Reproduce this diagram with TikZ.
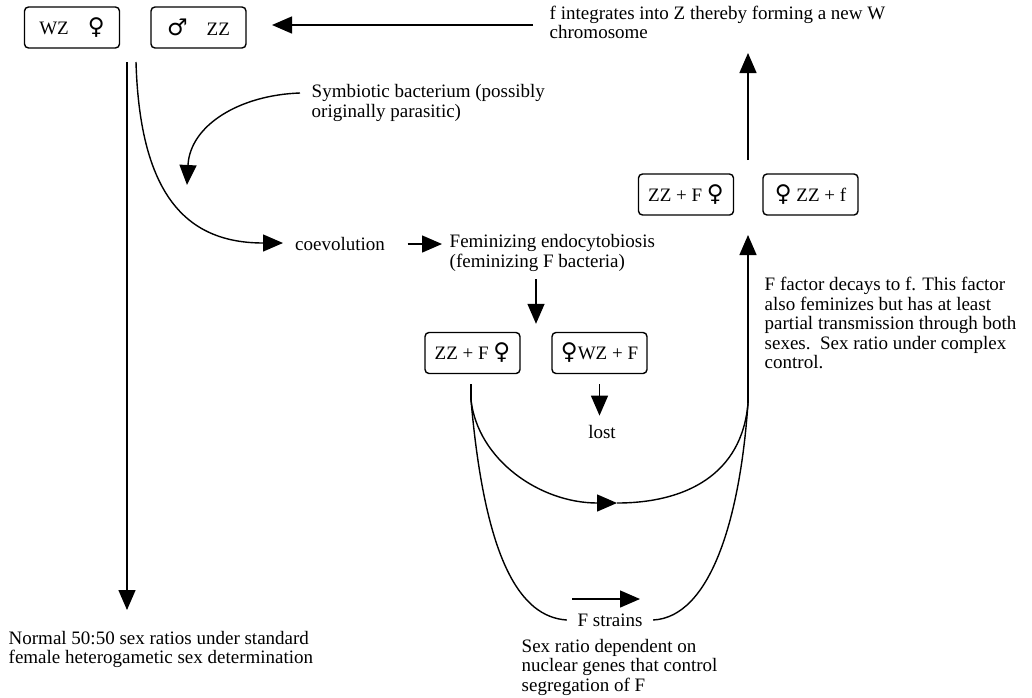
\documentclass[tikz,border=0pt]{standalone}
\usepackage{fontspec}
\setmainfont{Liberation Serif}
\newfontfamily\symfont{DejaVu Sans}
\usetikzlibrary{arrows.meta,calc}
\newcommand{\fem}{{\symfont\fontsize{11.5}{11.5}\selectfont ♀}}
\newcommand{\mal}{{\symfont\fontsize{11.5}{11.5}\selectfont ♂}}

\begin{document}
\begin{tikzpicture}[x=0.5pt,y=-0.5pt,
  font=\fontsize{9.5}{9.75}\selectfont,
  line width=0.7pt,
  box/.style={draw,rounded corners=2pt,minimum width=47.5pt,minimum height=20.5pt,inner sep=2pt},
  txt/.style={inner sep=0pt,align=left,anchor=west},
  lbl/.style={inner sep=0pt},
  arr/.style={-{Triangle[length=10pt,width=8.5pt]}}]
\useasboundingbox (0,0) rectangle (1032,697);

\node[box] (wz) at (72,27.5) {WZ\quad\fem};
\node[box] (zz) at (198.5,27.5) {\mal\quad ZZ};
\node[box] (zzF1) at (472.5,353) {ZZ + F\ \fem};
\node[box] (wzF) at (599.5,353) {\fem WZ + F};
\node[box] (zzF2) at (686,194.5) {ZZ + F\ \fem};
\node[box] (zzf) at (810.5,194.5) {\fem\ ZZ + f};

\node[txt] (newW) at (549,22.5) {f integrates into Z thereby forming a new W\\chromosome};
\node[txt] (symb) at (311,103) {Symbiotic bacterium (possibly\\originally parasitic)};
\node[lbl] (coev) at (340,244) {coevolution};
\node[txt] (femin) at (449,253) {Feminizing endocytobiosis\\(feminizing F bacteria)};
\node[lbl] (lost) at (602,432) {lost};
\node[txt] (decay) at (764,323) {F factor decays to f. This factor\\also feminizes but has at least\\partial transmission through both\\sexes.\ \ Sex ratio under complex\\control.};
\node[lbl] (fstr) at (610,620) {F strains};
\node[txt] (segr) at (521,667) {Sex ratio dependent on\\nuclear genes that control\\segregation of F};
\node[txt] (normal) at (8,649.5) {Normal 50:50 sex ratios under standard\\female heterogametic sex determination};

\coordinate (pairL) at (127,62);
\coordinate (pairR) at (136,62);
\coordinate (normTip) at (127,610);
\coordinate (symbTip) at (187,185);
\coordinate (coevIn) at (283,243);
\coordinate (zzIn) at (272,25);
\coordinate (fork) at ($(zzF1.north east)!.5!(wzF.north west)$);
\coordinate (split) at (471,400);
\coordinate (merge) at (748,403);
\coordinate (midA) at (617,503);
\coordinate (gapBot) at (748,235);
\coordinate (gapTop) at (748,160);
\coordinate (topTip) at (748,53);

\draw[arr,shorten <=8pt] (newW.west |- zzIn) -- (zzIn);
\draw[arr] (pairL) -- (normTip);
\draw[arr] (pairR) .. controls (140,200) and (190,243) .. (coevIn);
\draw[arr] ([shift={(-5.5pt,5pt)}]symb.west) .. controls (240,95) and (190,125) .. (symbTip);
\draw[arr,shorten <=11pt,shorten >=3.5pt] (coev.east) -- (coev.east -| femin.west);
\draw[arr,shorten <=3.5pt,shorten >=4pt] (femin.south -| fork) -- (fork);
\draw[arr,shorten <=5pt,shorten >=4.5pt] (wzF.south) -- (wzF.south |- lost.north);
\draw[shorten <=5pt] (zzF1.south -| split) -- (split);
\draw[arr] (split) .. controls (478,460) and (540,503) .. (midA);
\draw (midA) .. controls (685,503) and (742,475) .. (merge);
\draw (split) .. controls (485,560) and (520,617) .. ([xshift=-5pt]fstr.west);
\draw ([xshift=5pt]fstr.east) .. controls (710,617) and (740,520) .. (merge);
\draw[arr] ([shift={(-19pt,10.5pt)}]fstr.center) -- ++(68,0);
\draw[arr] (merge) -- (gapBot);
\draw[arr] (gapTop) -- (topTip);
\end{tikzpicture}
\end{document}
